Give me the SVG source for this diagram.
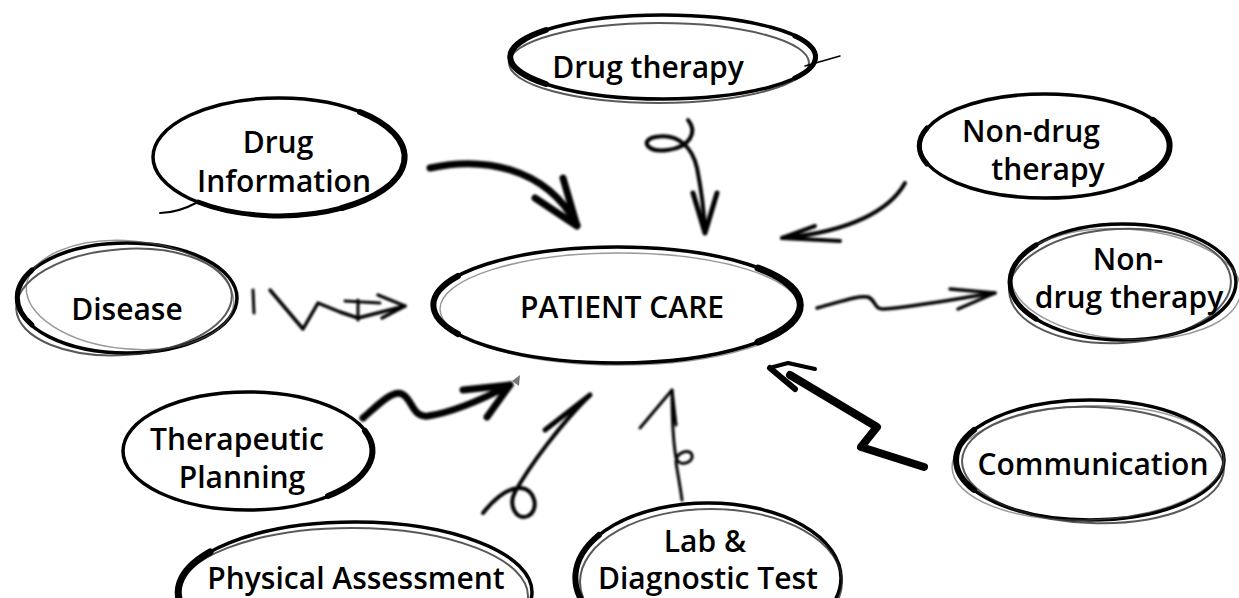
<svg xmlns="http://www.w3.org/2000/svg" width="1239" height="598" viewBox="0 0 1239 598">
<defs>
<style>
.lbl{font-family:"Open Sans","Noto Sans","Liberation Sans",sans-serif;font-weight:600;font-size:30px;fill:#000;text-anchor:middle}
.e1{fill:none;stroke:#000;stroke-width:3.5}
.e2{fill:none;stroke:#222;stroke-width:2;opacity:.75}
.e3{fill:none;stroke:#555;stroke-width:1.5;opacity:.6}
.th{fill:none;stroke:#000;stroke-linecap:round}
.arr{fill:none;stroke:#000;stroke-linecap:round;stroke-linejoin:round}
</style>
<filter id="soft" x="-20%" y="-20%" width="140%" height="140%"><feGaussianBlur stdDeviation="0.9"/></filter>
</defs>
<rect width="1239" height="598" fill="#fff"/>

<g id="connectors">
  <!-- Drug Information -> Patient care -->
  <g filter="url(#soft)">
    <path class="arr" stroke-width="7" d="M430,168 C480,157 545,165 577,225"/>
    <path class="arr" stroke-width="7" d="M535,198 L577,226 L563,178"/>
  </g>
  <!-- Drug therapy -> Patient care -->
  <g filter="url(#soft)">
    <path class="arr" stroke-width="4" d="M688,120 C698,132 690,147 668,150 C646,153 640,140 655,137 C680,132 693,150 697,168 C701,188 704,210 705,232"/>
    <path class="arr" stroke-width="5" d="M693,193 L705,233 L717,193"/>
  </g>
  <!-- Non-drug therapy (top) -> Patient care -->
  <g filter="url(#soft)">
    <path class="arr" stroke-width="4" d="M905,183 C890,210 850,232 782,238"/>
    <path class="arr" stroke-width="4" d="M815,226 L782,238 L840,241"/>
  </g>
  <!-- Patient care -> Non-drug therapy (right) -->
  <g filter="url(#soft)">
    <path class="arr" stroke-width="3.5" d="M817,308 C840,302 858,295 868,297 C876,300 874,310 884,309 C920,306 960,298 995,293"/>
    <path class="arr" stroke-width="3.5" d="M950,289 L995,293 L958,309"/>
  </g>
  <!-- Disease -> Patient care -->
  <g filter="url(#soft)">
    <path class="arr" stroke="#333" stroke-width="3" d="M253,290 L254,313"/>
    <path class="arr" stroke="#444" stroke-width="3.5" d="M270,290 L303,329 L318,303 L340,312 L358,318 L405,306"/>
    <path class="arr" stroke="#444" stroke-width="3.5" d="M378,295 L405,306 L382,318"/>
    <path class="arr" stroke="#666" stroke-width="3" d="M345,301 L380,303 M358,300 L358,320"/>
  </g>
  <!-- Therapeutic planning -> Patient care -->
  <g filter="url(#soft)">
    <path class="arr" stroke-width="7" d="M363,418 C378,405 392,390 402,394 C412,398 412,418 428,416 C455,412 485,398 510,385"/>
    <path class="arr" stroke-width="7" d="M463,390 L510,385 L487,417"/>
  </g>
  <polygon points="512,381 520,375 519,386" fill="#777"/>
  <!-- Physical assessment -> Patient care -->
  <g filter="url(#soft)">
    <path class="arr" stroke-width="4" d="M483,513 C495,498 508,488 520,488 C535,488 540,510 528,516 C516,521 508,505 515,492 C530,465 560,425 590,395"/>
    <path class="arr" stroke-width="5" d="M545,430 L590,395"/>
  </g>
  <!-- Lab & diagnostic -> Patient care -->
  <g filter="url(#soft)">
    <path class="arr" stroke="#333" stroke-width="3" d="M682,500 C680,485 677,470 676,462 C676,452 690,448 692,455 C694,462 680,468 676,458 C673,440 672,415 672,390"/>
    <path class="arr" stroke="#333" stroke-width="3" d="M640,428 L672,390 L676,425"/>
  </g>
  <!-- Communication -> Patient care -->
  <g>
    <path class="arr" stroke="#dcdcdc" stroke-width="8" d="M924,467 L861,447 L877,427 L790,375"/>
    <path class="arr" stroke="#222" stroke-width="2.5" d="M924,467 L861,447 L877,427 L792,378"/>
    <path class="arr" stroke="#555" stroke-width="4" d="M773,367 L788,363 L815,369"/>
    <path class="arr" stroke="#000" stroke-width="6" d="M770,368 L795,389"/>
  </g>
</g>

<g id="node-drug-therapy">
  <ellipse class="e1" cx="663" cy="57" rx="153" ry="42"/>
  <ellipse class="e2" cx="659" cy="63" rx="150" ry="40"/>
  <path class="th" stroke-width="6" d="M546,84 A153,42 0 0 1 546,30"/>
  <path class="th" stroke-width="5" d="M795,36 A153,42 0 0 1 795,78"/>
  <path class="th" stroke-width="1.5" d="M805,66 L840,56"/>
  <text class="lbl" x="648" y="78">Drug therapy</text>
</g>

<g id="node-drug-information">
  <ellipse class="e1" cx="279" cy="157" rx="126" ry="59" stroke-width="2.5"/>
  <path class="th" stroke-width="6" d="M360,112 A126,59 0 0 1 342,208"/>
  <path class="th" stroke-width="5" d="M342,208 A126,59 0 0 1 198,202"/>
  <path class="th" stroke-width="2" d="M198,202 C185,209 170,213 160,213"/>
  <text class="lbl" x="278" y="153">Drug</text>
  <text class="lbl" x="284" y="192">Information</text>
</g>

<g id="node-disease">
  <ellipse class="e1" cx="127" cy="298" rx="110" ry="55" stroke-width="3"/>
  <ellipse class="e2" cx="124" cy="302" rx="108" ry="53" transform="rotate(-4 124 302)" stroke-width="2.5"/>
  <ellipse class="e3" cx="130" cy="295" rx="104" ry="54" transform="rotate(5 130 295)"/>
  <path class="th" stroke-width="5" d="M32,325 A110,55 0 0 1 32,270"/>
  <text class="lbl" x="127" y="320">Disease</text>
</g>

<g id="node-patient-care">
  <ellipse class="e3" cx="620" cy="309" rx="180" ry="56"/>
  <ellipse class="e1" cx="617" cy="305" rx="184" ry="58" stroke-width="4"/>
  <path class="th" stroke-width="7" d="M758,268 A184,58 0 0 1 758,342"/>
  <path class="th" stroke-width="6" d="M458,334 A184,58 0 0 1 458,276"/>
  <text class="lbl" x="622" y="318">PATIENT CARE</text>
</g>

<g id="node-non-drug-therapy-top">
  <ellipse class="e1" cx="1045" cy="146" rx="125" ry="52" stroke-width="4"/>
  <path class="th" stroke-width="6" d="M1153,120 A125,52 0 0 1 1141,179"/>
  <path class="th" stroke-width="5" d="M927,164 A125,52 0 0 1 927,128"/>
  <text class="lbl" x="1031" y="142">Non-drug</text>
  <text class="lbl" x="1048" y="180">therapy</text>
</g>

<g id="node-non-drug-therapy-right">
  <ellipse class="e1" cx="1123" cy="282" rx="113" ry="58" stroke-width="3"/>
  <ellipse class="e2" cx="1120" cy="286" rx="111" ry="57" transform="rotate(-3 1120 286)" stroke-width="2.5"/>
  <ellipse class="e3" cx="1126" cy="284" rx="115" ry="55" transform="rotate(4 1126 284)"/>
  <path class="th" stroke-width="5" d="M1036,319 A113,58 0 0 1 1036,245"/>
  <text class="lbl" x="1128" y="270">Non-</text>
  <text class="lbl" x="1129" y="308">drug therapy</text>
</g>

<g id="node-therapeutic-planning">
  <ellipse class="e1" cx="248" cy="451" rx="125" ry="59" stroke-width="2.5"/>
  <path class="th" stroke-width="6" d="M365,431 A125,59 0 0 1 328,496"/>
  <text class="lbl" x="237" y="450">Therapeutic</text>
  <text class="lbl" x="242" y="488">Planning</text>
</g>

<g id="node-communication">
  <ellipse class="e1" cx="1090" cy="460" rx="134" ry="60" stroke-width="3"/>
  <ellipse class="e2" cx="1093" cy="465" rx="131" ry="58" transform="rotate(2 1093 465)" stroke-width="2.5"/>
  <ellipse class="e3" cx="1088" cy="463" rx="136" ry="57" transform="rotate(-2 1088 463)"/>
  <path class="th" stroke-width="6" d="M974,490 A134,60 0 0 1 974,430"/>
  <text class="lbl" x="1093" y="475">Communication</text>
</g>

<g id="node-physical-assessment">
  <ellipse class="e1" cx="355" cy="592" rx="177" ry="70" stroke-width="3"/>
  <ellipse class="e2" cx="352" cy="596" rx="176" ry="68"/>
  <path class="th" stroke-width="7" d="M189,616 A177,70 0 0 1 210,552"/>
  <text class="lbl" x="356" y="589">Physical Assessment</text>
</g>

<g id="node-lab-diagnostic">
  <ellipse class="e1" cx="708" cy="578" rx="133" ry="75" stroke-width="3"/>
  <ellipse class="e2" cx="711" cy="582" rx="131" ry="73"/>
  <path class="th" stroke-width="6" d="M593,615 A133,75 0 0 1 599,535"/>
  <text class="lbl" x="705" y="552">Lab &amp;</text>
  <text class="lbl" x="708" y="589">Diagnostic Test</text>
</g>
</svg>
